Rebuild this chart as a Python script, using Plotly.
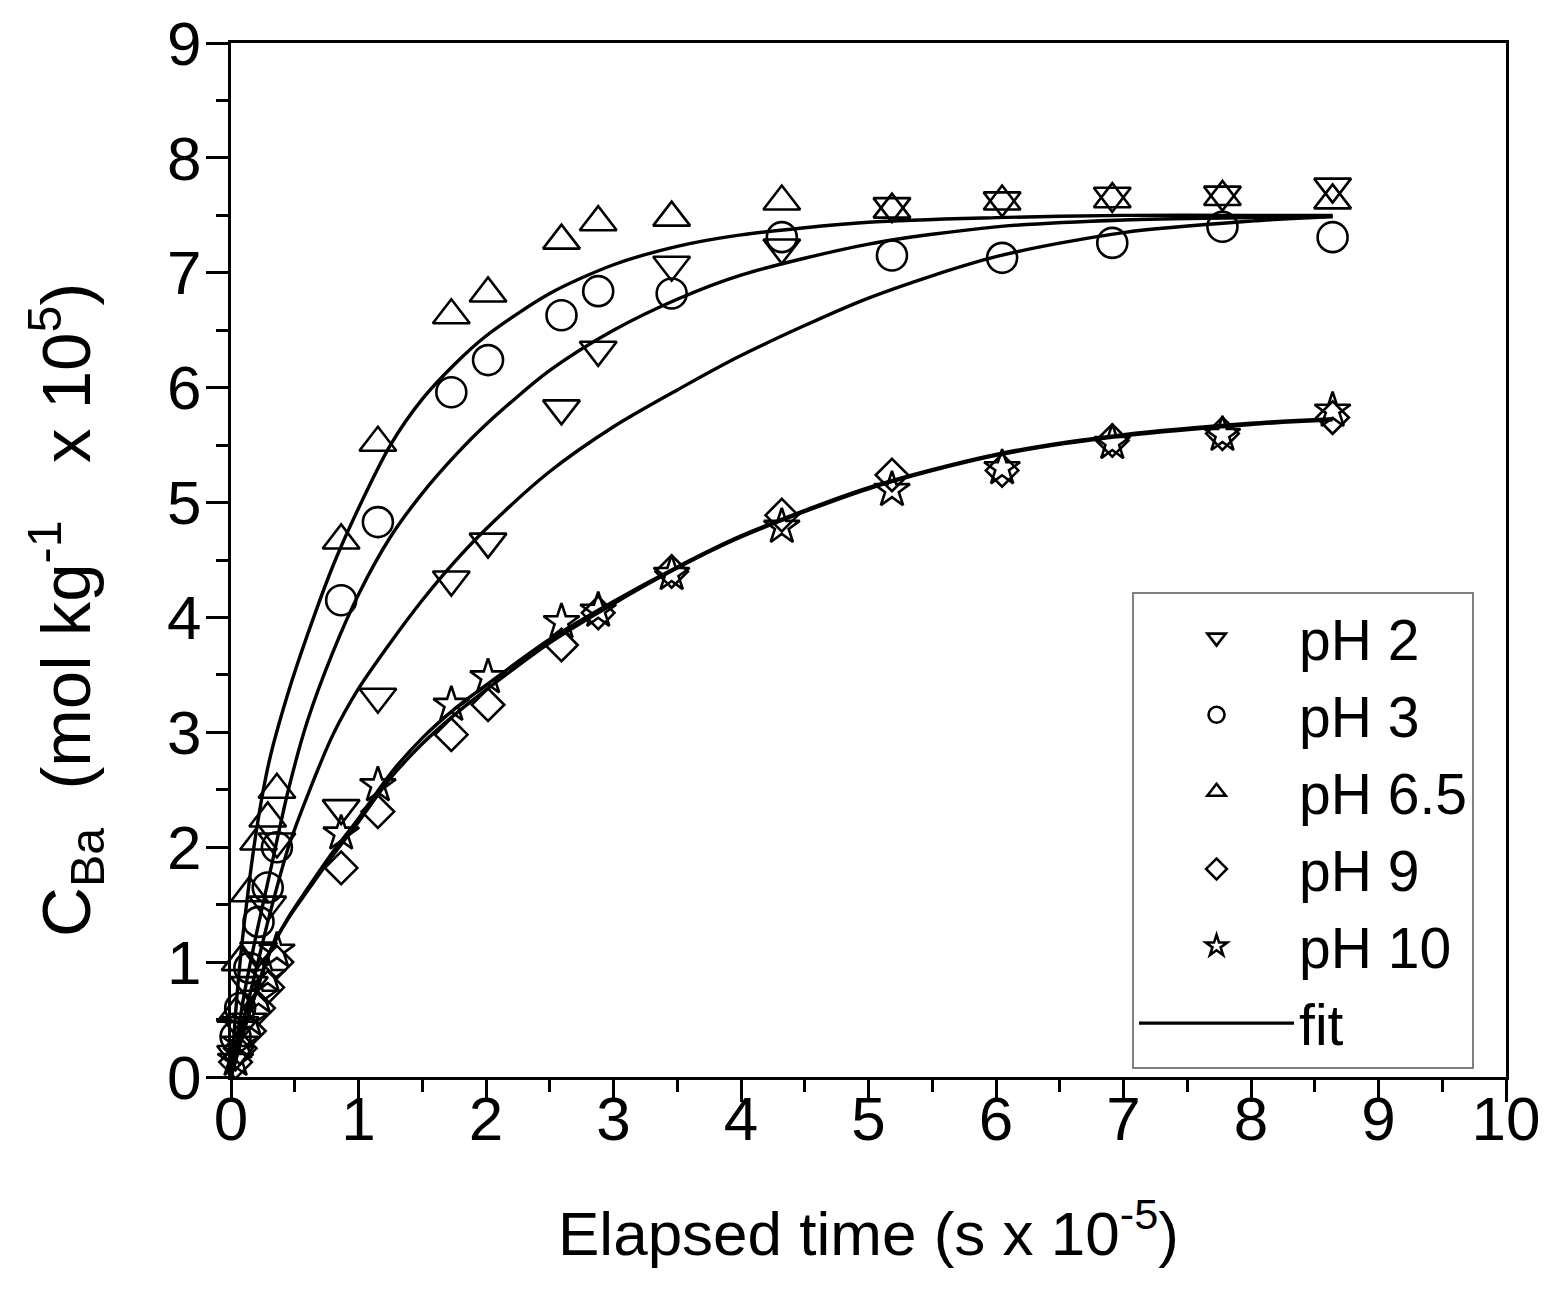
import plotly.graph_objects as go

# ---------------- data ----------------
time = [0.036, 0.072, 0.144, 0.216, 0.288, 0.36,
        0.864, 1.152, 1.728, 2.016, 2.592, 2.88, 3.456, 4.32, 5.184, 6.048, 6.912, 7.776, 8.64]

ph2 = [0.20, 0.45, 0.80, 1.10, 1.50, 2.05,
       2.34, 3.31, 4.33, 4.66, 5.82, 6.33, 7.07, 7.22, 7.58, 7.63, 7.67, 7.68, 7.75]
ph3 = [0.35, 0.60, 0.95, 1.35, 1.65, 2.00,
       4.15, 4.83, 5.96, 6.24, 6.63, 6.84, 6.82, 7.31, 7.15, 7.13, 7.26, 7.40, 7.31]
ph65 = [0.55, 1.00, 1.60, 2.05, 2.25, 2.50,
        4.67, 5.52, 6.63, 6.82, 7.28, 7.44, 7.48, 7.62, 7.55, 7.62, 7.64, 7.66, 7.63]
ph9 = [0.13, 0.25, 0.40, 0.60, 0.78, 1.00,
       1.82, 2.31, 2.98, 3.24, 3.76, 4.04, 4.40, 4.89, 5.24, 5.28, 5.54, 5.60, 5.74]
ph10 = [0.15, 0.30, 0.50, 0.70, 0.88, 1.10,
        2.12, 2.54, 3.24, 3.48, 3.96, 4.06, 4.38, 4.79, 5.11, 5.30, 5.52, 5.59, 5.80]

# fit curves
fit_x = [0, 0.05, 0.1, 0.2, 0.3, 0.45, 0.6, 0.8, 1.0, 1.25, 1.5, 1.75, 2.0,
         2.5, 3.0, 3.5, 4.0, 5.0, 6.0, 7.0, 8.0, 8.64]
fit_ph2 = [0, 0.25, 0.50, 0.95, 1.40, 2.00, 2.45, 2.98, 3.38, 3.78, 4.15, 4.48, 4.77,
           5.27, 5.66, 5.98, 6.28, 6.78, 7.14, 7.35, 7.45, 7.49]
fit_ph3 = [0, 0.35, 0.70, 1.25, 1.75, 2.50, 3.10, 3.70, 4.20, 4.70, 5.08, 5.40, 5.68,
           6.15, 6.50, 6.77, 6.98, 7.25, 7.40, 7.46, 7.48, 7.49]
fit_ph65 = [0, 0.75, 1.30, 2.15, 2.75, 3.35, 3.85, 4.45, 4.95, 5.50, 5.90, 6.20, 6.45,
            6.82, 7.07, 7.23, 7.33, 7.44, 7.48, 7.50, 7.50, 7.50]
fit_ph9 = [0, 0.20, 0.40, 0.75, 1.08, 1.38, 1.62, 1.93, 2.22, 2.60, 2.90, 3.15, 3.37,
           3.78, 4.12, 4.43, 4.70, 5.12, 5.41, 5.58, 5.68, 5.72]
fit_ph10 = [0, 0.20, 0.40, 0.75, 1.08, 1.39, 1.64, 1.96, 2.25, 2.64, 2.95, 3.20, 3.41,
            3.81, 4.14, 4.44, 4.71, 5.13, 5.42, 5.59, 5.69, 5.73]

series_names = ["pH 2", "pH 3", "pH 6.5", "pH 9", "pH 10"]
series_values = [ph2, ph3, ph65, ph9, ph10]
series_symbols = ["triangle-down-open", "circle-open", "triangle-up-open",
                  "diamond-open", "star-open"]
series_sizes = [32, 30, 32, 25, 27]
fits = [fit_ph2, fit_ph3, fit_ph65, fit_ph9, fit_ph10]

x_title = "Elapsed time (s x 10<sup>-5</sup>)"
y_title = ("C<sub>Ba</sub>\u00a0\u00a0(mol kg<sup>-1</sup>\u00a0\u00a0\u00a0"
           "x 10<sup>5</sup>)")

FONT = "Arial, Liberation Sans, Helvetica, sans-serif"

fig = go.Figure()

for name, vals, sym, sz in zip(series_names, series_values, series_symbols, series_sizes):
    fig.add_trace(go.Scatter(
        x=time, y=vals, mode="markers", name=name,
        marker=dict(symbol=sym, size=sz, color="black",
                    line=dict(color="black", width=2.6)),
        cliponaxis=False,
    ))

for i, fy in enumerate(fits):
    fig.add_trace(go.Scatter(
        x=fit_x, y=fy, mode="lines", name="fit",
        showlegend=(i == 0),
        line=dict(color="black", width=3.4, shape="spline", smoothing=0.8),
    ))

axis_common = dict(
    showline=True, linecolor="black", linewidth=3, mirror=True,
    ticks="outside", ticklen=22, tickwidth=3, tickcolor="black",
    showgrid=False, zeroline=False,
    tickfont=dict(family=FONT, size=62, color="black"),
    minor=dict(ticks="outside", ticklen=12, tickwidth=3, tickcolor="black", dtick=0.5),
)

fig.update_xaxes(range=[0, 10], dtick=1, tick0=0,
                 ticklabelstandoff=-36,
                 title=dict(text=x_title,
                            font=dict(family=FONT, size=62, color="black"),
                            standoff=60),
                 **axis_common)
fig.update_yaxes(range=[0, 9], dtick=1, tick0=0,
                 ticklabelstandoff=-8,
                 **axis_common)

fig.add_annotation(
    text=y_title, textangle=-90,
    xref="paper", yref="paper", x=-0.13, y=0.452,
    xanchor="center", yanchor="middle", showarrow=False,
    font=dict(family=FONT, size=69, color="black"),
)

fig.update_layout(
    width=1545, height=1292,
    margin=dict(l=231, r=39, t=43, b=215, autoexpand=False),
    paper_bgcolor="white", plot_bgcolor="white",
    font=dict(family=FONT, color="black"),
    legend=dict(
        x=0.7067, y=0.469, xanchor="left", yanchor="top",
        bgcolor="white", bordercolor="#808080", borderwidth=2,
        font=dict(family=FONT, size=57, color="black"),
        traceorder="normal",
        itemwidth=155, itemsizing="trace",
    ),
)

fig.write_html("out.html")
